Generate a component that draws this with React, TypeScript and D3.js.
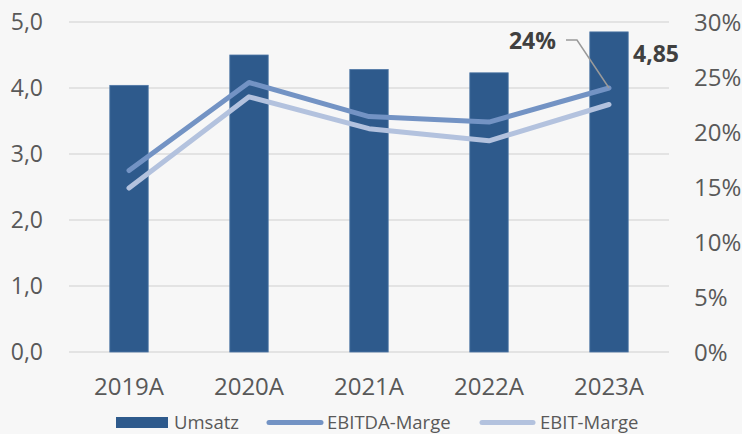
import React from "react";
import * as d3 from "d3";

const categories = ["2019A", "2020A", "2021A", "2022A", "2023A"];
const umsatz = [4.04, 4.5, 4.28, 4.23, 4.85];
const ebitdaMarge = [16.5, 24.5, 21.4, 20.9, 24.0];
const ebitMarge = [14.9, 23.2, 20.3, 19.2, 22.5];
const leftTicks = [0, 1, 2, 3, 4, 5];
const rightTicks = [0, 5, 10, 15, 20, 25, 30];

const W = 742, H = 434;
const plot = { left: 69, right: 669, top: 22, bottom: 352 };
const FONT = "'Open Sans', sans-serif";

export default function App() {
  const x = d3.scaleBand<string>().domain(categories).range([plot.left, plot.right]).paddingInner(0.68).paddingOuter(0.34);
  const yL = d3.scaleLinear().domain([0, 5]).range([plot.bottom, plot.top]);
  const yR = d3.scaleLinear().domain([0, 30]).range([plot.bottom, plot.top]);
  const cx = (c: string) => (x(c) as number) + x.bandwidth() / 2;
  const line = d3.line<number>().x((_, i) => cx(categories[i])).y((d) => yR(d));
  const fmt = (v: number) => v.toFixed(1).replace(".", ",");
  const last = categories.length - 1;
  const lx = cx(categories[last]);
  const ly = yR(ebitdaMarge[last]);
  return (
    <svg width={W} height={H} style={{ position: "absolute", left: 0, top: 0, background: "#f7f7f7" }} fontFamily={FONT}>
      <rect width={W} height={H} fill="#f7f7f7" />
      {leftTicks.map((t) => (
        <g key={t}>
          <line x1={plot.left} x2={plot.right} y1={yL(t)} y2={yL(t)} stroke="#dcdcdc" strokeWidth={1.5} />
          <text x={43} y={yL(t)} dy="0.36em" textAnchor="end" fontSize={23} fill="#595959">{fmt(t)}</text>
        </g>
      ))}
      {rightTicks.map((t) => (
        <text key={t} x={694} y={yR(t)} dy="0.36em" textAnchor="start" fontSize={24} fill="#595959">{t}%</text>
      ))}
      {categories.map((c, i) => (
        <rect key={c} x={x(c)} y={yL(umsatz[i])} width={x.bandwidth()} height={yL(0) - yL(umsatz[i])} fill="#2e5a8c" stroke="#4f77a6" strokeWidth={0.8} />
      ))}
      <path d={line(ebitMarge) || ""} fill="none" stroke="#b3c2de" strokeWidth={5} strokeLinecap="round" strokeLinejoin="round" />
      <path d={line(ebitdaMarge) || ""} fill="none" stroke="#7393c4" strokeWidth={5} strokeLinecap="round" strokeLinejoin="round" />
      {categories.map((c) => (
        <text key={c} x={cx(c)} y={395} textAnchor="middle" fontSize={24} fill="#595959">{c}</text>
      ))}
      <polyline points={`${566},${40} ${577},${40} ${lx},${ly}`} fill="none" stroke="#9a9a9a" strokeWidth={1.5} />
      <text x={556} y={49} textAnchor="end" fontSize={23} fontWeight="bold" fill="#404040">{Math.round(ebitdaMarge[last])}%</text>
      <text x={633} y={62} textAnchor="start" fontSize={23} fontWeight="bold" fill="#404040">{umsatz[last].toFixed(2).replace(".", ",")}</text>
      <g fontSize={18.5} fill="#595959">
        <rect x={116} y={417} width={52} height={11} fill="#2e5a8c" />
        <text x={174} y={428.5}>Umsatz</text>
        <line x1={269} x2={321} y1={422.5} y2={422.5} stroke="#7393c4" strokeWidth={5} strokeLinecap="round" />
        <text x={327} y={428.5}>EBITDA-Marge</text>
        <line x1={482} x2={533} y1={422.5} y2={422.5} stroke="#b3c2de" strokeWidth={5} strokeLinecap="round" />
        <text x={540} y={428.5}>EBIT-Marge</text>
      </g>
    </svg>
  );
}
